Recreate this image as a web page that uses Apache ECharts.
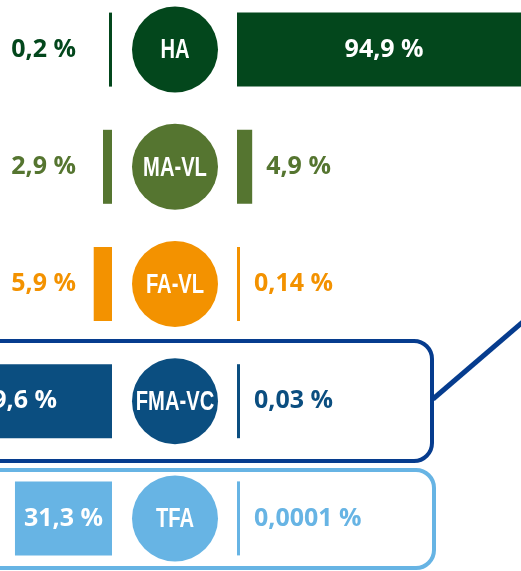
<!DOCTYPE html>
<html>
<head>
<meta charset="utf-8">
<script src="https://cdn.jsdelivr.net/npm/echarts@6/dist/echarts.min.js"></script>
<style>
  html, body { margin: 0; padding: 0; background: #fff; }
  #main { width: 521px; height: 571px; }
</style>
</head>
<body>
<div id="main"></div>
<script>
// rows, top to bottom
var categories = ['HA', 'MA-VL', 'FA-VL', 'FMA-VC', 'TFA'];
// share shown on the left of each circle (%)
var leftValues = [0.2, 2.9, 5.9, 69.6, 31.3];
// share shown on the right of each circle (%)
var rightValues = [94.9, 4.9, 0.14, 0.03, 0.0001];
var rowColors = ['#03471c', '#557530', '#f39200', '#0b4e80', '#67b4e4'];

var pctFont = '"Open Sans", "DejaVu Sans", sans-serif';
var tagFont = '"Liberation Sans", Arial, sans-serif';

function fmt(v) {
    return String(v).replace('.', ',') + ' %';
}

var leftData = leftValues.map(function (v, i) {
    var label;
    if (v > 50) {
        label = { position: 'insideRight', distance: 55, color: '#fff' };
    } else if (v > 10) {
        label = { position: 'inside', color: '#fff' };
    } else {
        label = { position: 'insideRight', distance: 36, color: rowColors[i] };
    }
    return { value: v, itemStyle: { color: rowColors[i] }, label: label };
});

var rightData = rightValues.map(function (v, i) {
    var label = v > 50
        ? { position: 'inside', color: '#fff' }
        : { position: 'right', distance: 14, color: rowColors[i] };
    return { value: v, itemStyle: { color: rowColors[i] }, label: label };
});

var circleData = categories.map(function (c, i) {
    return { value: [0.5, c], itemStyle: { color: rowColors[i], opacity: 1 } };
});

var pctLabel = {
    show: true,
    fontFamily: pctFont,
    fontWeight: 'bold',
    fontSize: 25,
    textBorderWidth: 0,
    formatter: function (p) { return fmt(p.value); }
};

var chart = echarts.init(document.getElementById('main'));
var option = {
    backgroundColor: '#fff',
    animation: false,
    grid: [
        { right: 409, width: 310, top: -9, height: 586, outerBoundsMode: 'none' },
        { left: 237, width: 310, top: -9, height: 586, outerBoundsMode: 'none' },
        { left: 133, width: 84, top: -9, height: 586, outerBoundsMode: 'none' }
    ],
    xAxis: [
        { gridIndex: 0, type: 'value', min: 0, max: 100, inverse: true, show: false },
        { gridIndex: 1, type: 'value', min: 0, max: 100, show: false },
        { gridIndex: 2, type: 'value', min: 0, max: 1, show: false }
    ],
    yAxis: [0, 1, 2].map(function (g) {
        return { gridIndex: g, type: 'category', data: categories, inverse: true, show: false };
    }),
    series: [
        {
            type: 'bar', xAxisIndex: 0, yAxisIndex: 0,
            barWidth: 74, barMinHeight: 3,
            label: pctLabel,
            data: leftData
        },
        {
            type: 'bar', xAxisIndex: 1, yAxisIndex: 1,
            barWidth: 74, barMinHeight: 3,
            label: pctLabel,
            data: rightData
        },
        {
            type: 'scatter', xAxisIndex: 2, yAxisIndex: 2,
            symbolSize: 86,
            data: circleData
        }
    ],
    graphic: [
        {
            type: 'rect', z: -1,
            shape: { x: -20, y: 341, width: 452, height: 120, r: 18 },
            style: { fill: 'none', stroke: '#063c8e', lineWidth: 4 }
        },
        {
            type: 'rect', z: -1,
            shape: { x: -20, y: 470, width: 454, height: 98, r: 18 },
            style: { fill: 'none', stroke: '#67b4e4', lineWidth: 4 }
        },
        {
            type: 'line', z: 10,
            shape: { x1: 433, y1: 399, x2: 560, y2: 290 },
            style: { stroke: '#063c8e', lineWidth: 5 }
        }
    ]
};
chart.setOption(option);

// circle tags: condensed look by squeezing the text horizontally
var tags = categories.map(function (c, i) {
    var pt = chart.convertToPixel({ xAxisIndex: 2, yAxisIndex: 2 }, [0.5, i]);
    return {
        type: 'text', z: 100,
        x: pt[0], y: pt[1] + 1,
        scaleX: 0.72,
        style: {
            text: c,
            fill: '#fff',
            font: 'bold 28px ' + tagFont,
            align: 'center',
            verticalAlign: 'middle'
        }
    };
});
chart.setOption({ graphic: option.graphic.concat(tags) });
</script>
</body>
</html>
